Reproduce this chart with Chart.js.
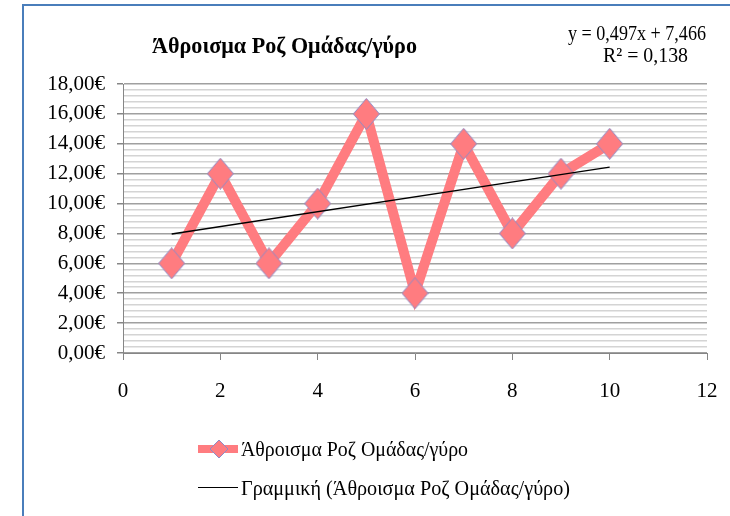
<!DOCTYPE html>
<html>
<head>
<meta charset="utf-8">
<script src="https://cdn.jsdelivr.net/npm/chart.js@4/dist/chart.umd.min.js"></script>
<style>
  html, body { margin: 0; padding: 0; background: #fff; }
  #wrap { position: relative; width: 730px; height: 516px; overflow: hidden; font-family: "Liberation Serif", "Times New Roman", serif; color: #000; }
  #frame { position: absolute; left: 22px; top: 4px; width: 800px; height: 600px; border-left: 2px solid #4a7ebb; border-top: 2px solid #4a7ebb; }
  canvas { position: absolute; left: 0; top: 0; }
  .txt { position: absolute; white-space: nowrap; transform-origin: 0 0; }
  #title { left: 152px; top: 33px; font-size: 24px; line-height: 24px; font-weight: bold; }
  #eq1 { left: 568px; top: 22px; font-size: 22px; line-height: 22px; }
  #eq2 { left: 603px; top: 44px; font-size: 22px; line-height: 22px; }
  #leg1 { left: 241px; top: 439px; font-size: 21px; line-height: 21px; }
  #leg2 { left: 241px; top: 478px; font-size: 21px; line-height: 21px; }
  .legline1 { position: absolute; left: 198px; top: 445px; width: 40px; height: 8px; background: #ff7c80; }
  .legline2 { position: absolute; left: 198px; top: 487px; width: 40px; height: 1px; background: #000; }
  #legdia { position: absolute; left: 209px; top: 439px; }
</style>
</head>
<body>
<div id="wrap">
  <canvas id="c" width="730" height="516"></canvas>
  <div id="frame"></div>
  <div class="txt" id="title" data-w="265">Άθροισμα Ροζ Ομάδας/γύρο</div>
  <div class="txt" id="eq1" data-w="138">y = 0,497x + 7,466</div>
  <div class="txt" id="eq2" data-w="85">R² = 0,138</div>
  <div class="legline1"></div>
  <svg id="legdia" width="20" height="20" viewBox="0 0 20 20"><polygon points="10,1 19,10 10,19 1,10" fill="#ff7c80" stroke="#8c8cc8" stroke-width="1"/></svg>
  <div class="txt" id="leg1" data-w="227">Άθροισμα Ροζ Ομάδας/γύρο</div>
  <div class="legline2"></div>
  <div class="txt" id="leg2" data-w="329">Γραμμική (Άθροισμα Ροζ Ομάδας/γύρο)</div>
</div>
<script>
// Data
const rounds = [1, 2, 3, 4, 5, 6, 7, 8, 9, 10];
const pinkTotals = [6, 12, 6, 10, 16, 4, 14, 8, 12, 14];
// Trendline coefficients as printed on the chart
const trendSlope = 0.497;
const trendIntercept = 7.466;
const trendX = [1, 10];
const yTickMajor = 2;
const yTickMinor = 0.4;
const xTicks = [0, 2, 4, 6, 8, 10, 12];

const seriesPoints = rounds.map((x, i) => ({ x: x, y: pinkTotals[i] }));
const trendPoints = trendX.map(x => ({ x: x, y: trendSlope * x + trendIntercept }));

// condense HTML texts to the reference widths
document.querySelectorAll('.txt[data-w]').forEach(el => {
  const w = el.getBoundingClientRect().width;
  const target = parseFloat(el.dataset.w);
  if (w > 0) el.style.transform = 'scaleX(' + (target / w) + ')';
});

// diamond marker (slightly taller than wide, like the reference)
const dia = document.createElement('canvas');
dia.width = 27; dia.height = 32;
(function () {
  const g = dia.getContext('2d');
  g.beginPath();
  g.moveTo(13.5, 0.5); g.lineTo(26.5, 16); g.lineTo(13.5, 31.5); g.lineTo(0.5, 16); g.closePath();
  g.fillStyle = '#ff7c80'; g.fill();
  g.strokeStyle = '#8c8cc8'; g.lineWidth = 1; g.stroke();
})();

const isMajor = v => Math.abs(v / yTickMajor - Math.round(v / yTickMajor)) < 1e-6;
const tickFont = { family: "'Liberation Serif', 'Times New Roman', serif", size: 21 };

new Chart(document.getElementById('c'), {
  type: 'scatter',
  data: {
    datasets: [
      {
        label: 'Γραμμική (Άθροισμα Ροζ Ομάδας/γύρο)',
        data: trendPoints,
        showLine: true,
        borderColor: '#000',
        borderWidth: 1.3,
        pointRadius: 0,
        order: 0
      },
      {
        label: 'Άθροισμα Ροζ Ομάδας/γύρο',
        data: seriesPoints,
        showLine: true,
        borderColor: '#ff7c80',
        borderWidth: 10,
        backgroundColor: '#ff7c80',
        pointStyle: dia,
        pointRadius: 13,
        order: 1
      }
    ]
  },
  options: {
    responsive: false,
    animation: false,
    devicePixelRatio: 1,
    layout: { padding: { left: 0, right: 23, top: 84, bottom: 0 } },
    plugins: { legend: { display: false }, title: { display: false }, tooltip: { enabled: false } },
    scales: {
      x: {
        type: 'linear',
        min: 0, max: 12,
        afterBuildTicks: s => { s.ticks = xTicks.map(v => ({ value: v })); },
        ticks: { font: tickFont, color: '#000', padding: 19, maxRotation: 0, autoSkip: false },
        grid: { drawOnChartArea: false, drawTicks: true, tickLength: 7, tickColor: '#868686' },
        border: { color: '#868686', width: 1 },
        afterFit: s => { s.height = 163; s.paddingLeft = 0; s.paddingRight = 0; }
      },
      y: {
        min: 0, max: 18,
        ticks: {
          stepSize: yTickMinor,
          autoSkip: false,
          font: tickFont,
          color: '#000',
          padding: 12,
          callback: v => isMajor(v) ? v.toFixed(2).replace('.', ',') + '€' : ''
        },
        grid: {
          drawTicks: true,
          tickLength: 6,
          color: c => isMajor(c.tick.value) ? '#a0a0a0' : '#d4d4d4',
          lineWidth: 1.5,
          tickColor: c => isMajor(c.tick.value) ? '#868686' : 'rgba(0,0,0,0)'
        },
        border: { color: '#868686', width: 1 },
        afterFit: s => { s.width = 123; s.paddingTop = 0; s.paddingBottom = 0; }
      }
    }
  }
});
</script>
</body>
</html>
